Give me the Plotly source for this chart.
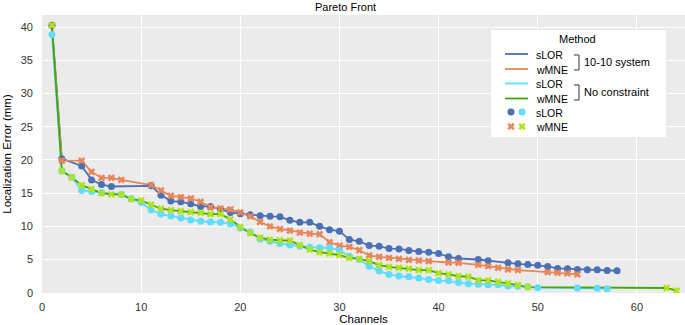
import plotly.graph_objects as go

# ---------------- data ----------------
slor_1010_ch = [1, 2, 4, 5, 6, 7, 11, 12, 13, 14, 15, 16, 17, 18, 19, 20, 21, 22, 23, 24, 25,
                26, 27, 28, 29, 30, 31, 32, 33, 34, 35, 36, 37, 38, 39, 40, 41, 42, 44, 45, 47,
                48, 49, 50, 51, 52, 53, 54, 55, 56, 57, 58]
slor_1010_err = [40.3, 20.2, 19.1, 17.0, 16.3, 16.0, 16.1, 14.7, 13.8, 13.7, 13.4, 13.0, 13.0,
                 12.55, 12.1, 11.9, 11.75, 11.6, 11.5, 11.45, 10.9, 10.6, 10.6, 10.0, 9.5, 9.27,
                 8.0, 7.75, 7.1, 7.0, 6.65, 6.6, 6.35, 6.2, 6.1, 5.9, 5.4, 5.15, 5.0, 4.8, 4.5,
                 4.35, 4.25, 4.15, 3.95, 3.65, 3.6, 3.5, 3.45, 3.45, 3.35, 3.3]

wmne_1010_ch = [1, 2, 4, 5, 6, 7, 8, 11, 12, 13, 14, 15, 16, 17, 18, 19, 20, 21, 22, 23, 24,
                25, 26, 27, 28, 29, 30, 31, 32, 33, 34, 35, 36, 37, 38, 39, 41, 42, 44, 45, 46,
                47, 48, 51, 52, 53, 54]
wmne_1010_err = [40.3, 19.9, 19.9, 18.2, 17.3, 17.3, 17.0, 16.2, 15.4, 14.6, 14.4, 14.2, 13.7,
                 12.9, 12.7, 12.55, 12.1, 11.5, 10.65, 10.0, 9.6, 9.35, 9.05, 8.9, 8.8, 7.6, 7.1,
                 6.9, 6.4, 5.6, 5.4, 5.25, 5.1, 4.95, 4.85, 4.75, 4.55, 4.5, 4.2, 4.0, 3.75, 3.5,
                 3.4, 3.1, 3.0, 2.9, 2.75]

slor_free_ch = [1, 2, 3, 4, 5, 6, 8, 9, 10, 11, 12, 13, 14, 15, 16, 17, 18, 19, 20, 21, 22, 23,
                24, 25, 26, 27, 28, 29, 30, 31, 32, 33, 34, 35, 36, 37, 38, 39, 40, 41, 42, 43,
                44, 45, 46, 47, 48, 49, 50, 54, 56, 57]
slor_free_err = [38.9, 18.35, 17.4, 15.4, 15.25, 15.1, 14.8, 14.15, 13.6, 12.45, 11.85, 11.55,
                 11.25, 10.95, 10.75, 10.65, 10.6, 10.4, 9.75, 9.15, 8.1, 7.75, 7.4, 7.2, 7.0,
                 6.86, 6.76, 6.76, 6.4, 5.5, 5.0, 4.0, 3.25, 2.75, 2.5, 2.4, 2.2, 2.0, 1.85, 1.8,
                 1.55, 1.35, 1.25, 1.2, 1.2, 1.0, 0.95, 0.9, 0.75, 0.7, 0.65, 0.6]

wmne_free_ch = [1, 2, 3, 4, 5, 6, 7, 8, 9, 10, 11, 12, 13, 14, 15, 16, 17, 18, 19, 20, 21, 22,
                23, 24, 25, 26, 27, 28, 29, 30, 31, 32, 33, 34, 35, 36, 37, 38, 39, 40, 41, 42,
                43, 44, 45, 46, 47, 48, 49, 63, 64]
wmne_free_err = [40.3, 18.35, 17.4, 16.2, 15.6, 15.0, 14.8, 14.8, 14.1, 13.9, 13.25, 12.65,
                 12.45, 12.3, 12.15, 12.05, 11.85, 11.85, 11.05, 9.9, 9.0, 8.3, 8.0, 7.9, 7.85,
                 7.16, 6.5, 6.1, 5.9, 5.66, 5.26, 5.1, 4.76, 4.16, 3.9, 3.75, 3.6, 3.4, 3.4, 2.95,
                 2.75, 2.5, 2.4, 1.9, 1.85, 1.65, 1.4, 1.15, 0.85, 0.7, 0.3]

x_ticks = [0, 10, 20, 30, 40, 50, 60]
y_ticks = [0, 5, 10, 15, 20, 25, 30, 35, 40]

BLUE = "#4A70B5"
ORANGE = "#E8865A"
CYAN = "#5FDCFF"
GREEN_LINE = "#3FA80A"
GREEN_MARK = "#B2E21A"

series = [
    (slor_1010_ch, slor_1010_err, BLUE, BLUE, "circle"),
    (wmne_1010_ch, wmne_1010_err, ORANGE, ORANGE, "x"),
    (slor_free_ch, slor_free_err, CYAN, CYAN, "circle"),
    (wmne_free_ch, wmne_free_err, GREEN_LINE, GREEN_MARK, "x"),
]

fig = go.Figure()
# lines first
for ch, err, lc, mc, sym in series:
    fig.add_trace(go.Scatter(x=ch, y=err, mode="lines",
                             line=dict(color=lc, width=1.8), showlegend=False,
                             hoverinfo="skip"))
# points on top
for ch, err, lc, mc, sym in series:
    fig.add_trace(go.Scatter(x=ch, y=err, mode="markers",
                             marker=dict(color=mc, symbol=sym, size=7 if sym == "circle" else 6.5,
                                         line=dict(width=0)),
                             showlegend=False))

# ---------- custom legend drawn in pixel-like overlay axes ----------
PL, PR, PT, PB = 42, 685, 15, 293
leg_rows = [54, 69, 83.5, 98.5, 112, 126.5]
leg_labels = ["sLOR", "wMNE", "sLOR", "wMNE", "sLOR", "wMNE"]
leg_line_colors = [BLUE, ORANGE, CYAN, GREEN_LINE]

fig.add_trace(go.Scatter(x=[511, 522], y=[leg_rows[4]] * 2, xaxis="x2", yaxis="y2",
                         mode="markers", marker=dict(color=[BLUE, CYAN], symbol="circle", size=7),
                         showlegend=False, hoverinfo="skip"))
fig.add_trace(go.Scatter(x=[511, 522], y=[leg_rows[5]] * 2, xaxis="x2", yaxis="y2",
                         mode="markers", marker=dict(color=[ORANGE, GREEN_MARK], symbol="x", size=6.5,
                                                     line=dict(width=0)),
                         showlegend=False, hoverinfo="skip"))

shapes = [dict(type="rect", xref="x2", yref="y2", x0=491, x1=666, y0=30, y1=137,
               fillcolor="white", line=dict(width=0), layer="below")]
for row, col in zip(leg_rows[:4], leg_line_colors):
    shapes.append(dict(type="line", xref="x2", yref="y2", x0=505, x1=528, y0=row, y1=row,
                       line=dict(color=col, width=1.8)))
for top, bot in [(55, 70), (85, 100)]:
    shapes.append(dict(type="path", xref="x2", yref="y2",
                       path=f"M 574 {top} L 579 {top} L 579 {bot} L 574 {bot}",
                       line=dict(color="#333333", width=1)))

ann = [dict(xref="x2", yref="y2", x=577, y=38.5, text="Method", showarrow=False,
            font=dict(size=11, color="black"), xanchor="center", yanchor="middle")]
for row, lab in zip(leg_rows, leg_labels):
    ann.append(dict(xref="x2", yref="y2", x=534, y=row + 0.5, text=lab, showarrow=False,
                    font=dict(size=10.5, color="black"), xanchor="left", yanchor="middle"))
ann.append(dict(xref="x2", yref="y2", x=582, y=62, text="10-10 system", showarrow=False,
                font=dict(size=11, color="black"), xanchor="left", yanchor="middle"))
ann.append(dict(xref="x2", yref="y2", x=582, y=91.5, text="No constraint", showarrow=False,
                font=dict(size=11, color="black"), xanchor="left", yanchor="middle"))
ann.append(dict(xref="paper", yref="paper", x=(345 - PL) / (PR - PL), y=(PB - 7) / (PB - PT),
                text="Pareto Front", showarrow=False, font=dict(size=11, color="black"),
                xanchor="center", yanchor="middle"))

fig.update_layout(
    width=685, height=325,
    margin=dict(l=PL, r=685 - PR, t=PT, b=325 - PB, pad=0, autoexpand=False),
    paper_bgcolor="white", plot_bgcolor="#EBEBEB",
    font=dict(family="Liberation Sans, Arial, sans-serif", size=11, color="#4D4D4D"),
    xaxis=dict(range=[0, 64.85], tickvals=x_ticks, showgrid=True, gridcolor="white",
               gridwidth=1.2, zeroline=False, ticks="", ticklabelstandoff=6,
               tickfont=dict(size=11, color="#333333"), automargin=False,
               title=dict(text="Channels", font=dict(size=11.5, color="black"), standoff=2)),
    yaxis=dict(range=[-0.05, 41.85], tickvals=y_ticks, showgrid=True, gridcolor="white",
               gridwidth=1.2, zeroline=False, ticks="", ticklabelstandoff=8,
               tickfont=dict(size=11, color="#333333"), automargin=False,
               title=dict(text="Localization Error (mm)", font=dict(size=11.5, color="black"),
                          standoff=6)),
    xaxis2=dict(overlaying="x", range=[PL, PR], visible=False, fixedrange=True),
    yaxis2=dict(overlaying="y", range=[PB, PT], visible=False, fixedrange=True),
    shapes=shapes, annotations=ann,
    showlegend=False,
)

fig.write_html("out.html", config={"displayModeBar": False},
               post_script="document.body.style.margin='0';document.body.style.padding='0';")
